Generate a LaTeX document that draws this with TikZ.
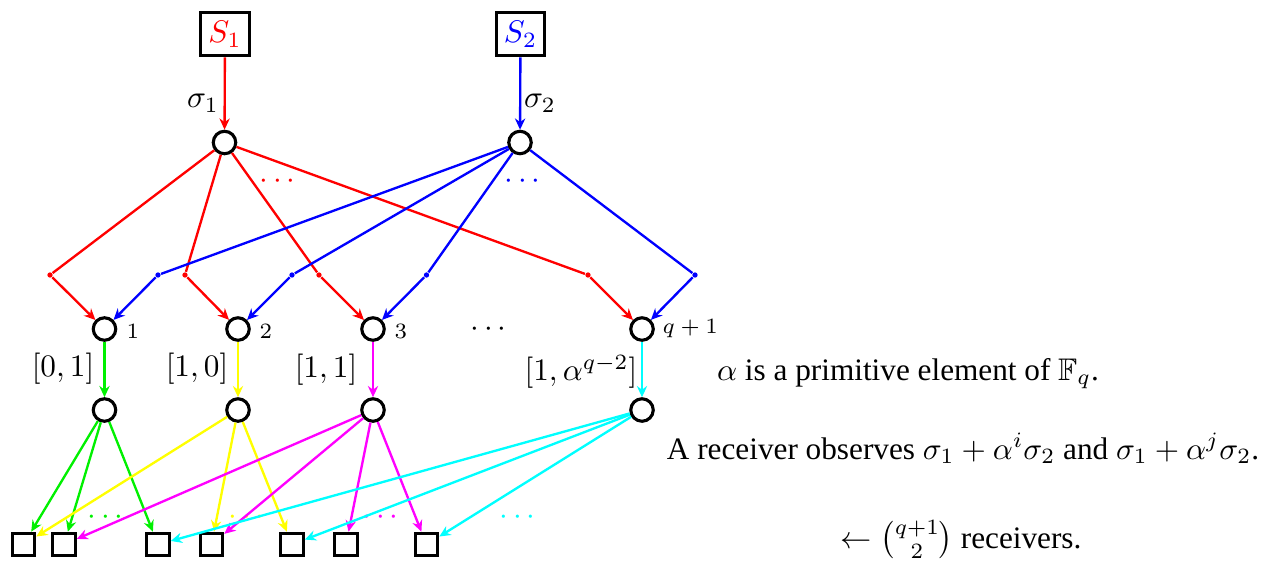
\documentclass[tikz,border=0pt]{standalone}
\usepackage{amsmath,amssymb}
\usepackage[no-math]{fontspec}
\setmainfont{Liberation Serif}
\usetikzlibrary{arrows.meta}
\definecolor{cred}{RGB}{255,0,0}
\definecolor{cblue}{RGB}{0,0,255}
\definecolor{cgreen}{RGB}{0,240,0}
\definecolor{cyellow}{RGB}{255,255,0}
\definecolor{cmagenta}{RGB}{255,0,255}
\definecolor{ccyan}{RGB}{0,255,255}
\begin{document}
\begin{tikzpicture}[x=0.32pt,y=-0.32pt,
  every node/.style={inner sep=0pt},
  src/.style={draw,line width=1pt,minimum width=15.6pt,minimum height=14pt},
  vert/.style={draw,circle,line width=1pt,minimum size=7.2pt},
  recv/.style={draw,line width=1pt,minimum size=7.2pt},
  junc/.style={circle,fill,minimum size=1.7pt},
  edge/.style={line width=0.75pt},
  arr/.style={edge,-{Stealth[length=3.6pt,width=3.3pt,inset=1.2pt]}},
  idx/.style={anchor=west,font=\scriptsize}
]
\useasboundingbox (0,0) rectangle (1279,565);
% sources
\node[src] (S1) at (225,34) {$\color{cred}S_1$};
\node[src] (S2) at (520.5,34) {$\color{cblue}S_2$};
% top vertices
\node[vert] (c1) at (224.5,142.5) {};
\node[vert] (c2) at (520,142.5) {};
\draw[arr,cred] (S1) -- (c1);
\draw[arr,cblue] (S2) -- (c2);
\node (sig1) at (203,103) {$\sigma_1$};
\node (sig2) at (540,103) {$\sigma_2$};
% junctions
\node[junc,cred] (r1) at (50,275) {};
\node[junc,cred] (r2) at (185,275) {};
\node[junc,cred] (r3) at (319,275) {};
\node[junc,cred] (r4) at (588,275) {};
\node[junc,cblue] (b1) at (158,275) {};
\node[junc,cblue] (b2) at (292,275) {};
\node[junc,cblue] (b3) at (426.5,275) {};
\node[junc,cblue] (b4) at (695,275) {};
% middle vertices
\node[vert] (m1) at (104.5,329) {};
\node[vert] (m2) at (238,329) {};
\node[vert] (m3) at (373,329) {};
\node[vert] (m4) at (642,329) {};
\node[idx] (n1) at (126,331) {$1$};
\node[idx] (n2) at (259,331) {$2$};
\node[idx] (n3) at (394,331) {$3$};
\node[idx] (n4) at (662,329) {$q+1$};
\node (mdots) at (491,330) {$\cdots$};
% lower vertices
\node[vert] (l1) at (104.5,410) {};
\node[vert] (l2) at (238,410) {};
\node[vert] (l3) at (373,410) {};
\node[vert] (l4) at (642,410) {};
\node (lab1) at (63,369) {$[0,1]$};
\node (lab2) at (197,369) {$[1,0]$};
\node (lab3) at (326,370) {$[1,1]$};
\node (lab4) at (581,372) {$[1,\alpha^{q-2}]$};
% receivers
\node[recv] (q1) at (23.5,544.5) {};
\node[recv] (q2) at (64,544.5) {};
\node[recv] (q3) at (158,544.5) {};
\node[recv] (q4) at (211.5,544.5) {};
\node[recv] (q5) at (292,544.5) {};
\node[recv] (q6) at (346,544.5) {};
\node[recv] (q7) at (426.5,544.5) {};
% dots
\node[cred] (rdots) at (280,182) {$\cdots$};
\node[cblue] (bdots) at (525,182) {$\cdots$};
\node[cgreen] (gdots) at (108,518) {$\cdots$};
\node[cyellow] (ydots) at (249,518) {$\cdots$};
\node[cmagenta] (mgdots) at (383,518) {$\cdots$};
\node[ccyan] (cdots) at (520,518) {$\cdots$};
% top edges
\foreach \j/\m in {r1/m1,r2/m2,r3/m3,r4/m4}{
  \draw[edge,cred] (c1) -- (\j);
  \draw[arr,cred] (\j) -- (\m);
}
\foreach \j/\m in {b1/m1,b2/m2,b3/m3,b4/m4}{
  \draw[edge,cblue] (c2) -- (\j);
  \draw[arr,cblue] (\j) -- (\m);
}
% coding edges
\draw[arr,cgreen] (m1) -- (l1);
\draw[arr,cyellow] (m2) -- (l2);
\draw[arr,cmagenta] (m3) -- (l3);
\draw[arr,ccyan] (m4) -- (l4);
% bottom edges
\foreach \q in {q1,q2,q3}{\draw[arr,cgreen] (l1) -- (\q);}
\foreach \q in {q1,q4,q5}{\draw[arr,cyellow] (l2) -- (\q);}
\foreach \q in {q2,q4,q6,q7}{\draw[arr,cmagenta] (l3) -- (\q);}
\foreach \q in {q3,q5,q7}{\draw[arr,ccyan] (l4) -- (\q);}
% text
\node[anchor=base] (t1) at (908,380) {$\alpha$ is a primitive element of $\mathbb{F}_q$.};
\node[anchor=base] (t2) at (963,459) {A receiver observes $\sigma_1+\alpha^i\sigma_2$ and $\sigma_1+\alpha^j\sigma_2$.};
\node[anchor=base] (t3) at (961,548) {$\leftarrow\binom{q+1}{2}$ receivers.};
\end{tikzpicture}
\end{document}
